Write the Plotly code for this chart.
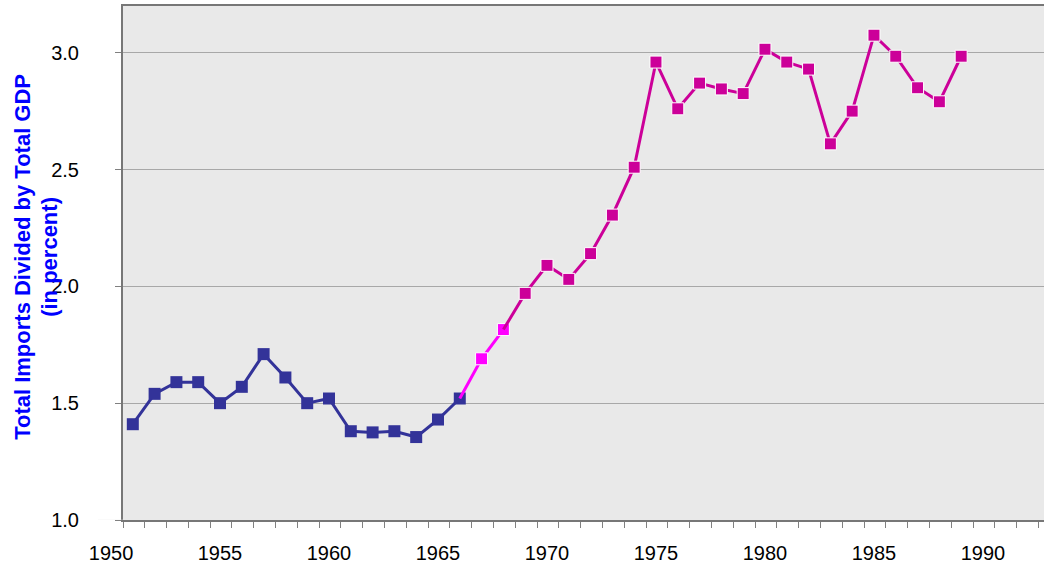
import plotly.graph_objects as go

# ---- data ----
blue_years = [1951, 1952, 1953, 1954, 1955, 1956, 1957, 1958, 1959, 1960,
              1961, 1962, 1963, 1964, 1965, 1966]
blue_vals = [1.41, 1.54, 1.59, 1.59, 1.50, 1.57, 1.71, 1.61, 1.50, 1.52,
             1.38, 1.375, 1.38, 1.355, 1.43, 1.52]

magenta_years = [1966, 1967, 1968]
magenta_vals = [1.52, 1.69, 1.815]

pink_years = [1968, 1969, 1970, 1971, 1972, 1973, 1974, 1975, 1976, 1977,
              1978, 1979, 1980, 1981, 1982, 1983, 1984, 1985, 1986, 1987,
              1988, 1989]
pink_vals = [1.815, 1.97, 2.09, 2.03, 2.14, 2.305, 2.51, 2.96, 2.76, 2.87,
             2.845, 2.825, 3.015, 2.96, 2.93, 2.61, 2.75, 3.075, 2.985, 2.85,
             2.79, 2.985]

x_tick_labels = [1950, 1955, 1960, 1965, 1970, 1975, 1980, 1985, 1990]
y_tick_vals = [1.0, 1.5, 2.0, 2.5, 3.0]

y_title_line1 = "Total Imports Divided by Total GDP"
y_title_line2 = "(in percent)"

# ---- layout constants ----
W, H = 1044, 563
ML, MR, MT, MB = 98, 0, 6, 43
PLOT_LEFT_OFFSET = 25          # px between paper left and the plot frame
X_RANGE = [1950.55, 1992.8]
Y_RANGE = [1.0, 3.2]

plot_w = W - ML - MR
x_dom0 = PLOT_LEFT_OFFSET / plot_w
px_per_unit = (plot_w - PLOT_LEFT_OFFSET) / (X_RANGE[1] - X_RANGE[0])
x2_range = [X_RANGE[0] - PLOT_LEFT_OFFSET / px_per_unit, X_RANGE[1]]

# ---- figure ----
MS = 12
fig = go.Figure()
fig.add_trace(go.Scatter(
    x=blue_years, y=blue_vals, mode="lines+markers",
    line=dict(color="#333399", width=3),
    marker=dict(symbol="square", size=MS, color="#333399", opacity=1),
    showlegend=False, cliponaxis=False))
fig.add_trace(go.Scatter(
    x=magenta_years, y=magenta_vals, mode="lines+markers",
    line=dict(color="#FF00FF", width=3),
    marker=dict(symbol="square", size=[0] + [MS] * (len(magenta_years) - 1),
                color="#FF00FF", opacity=1),
    showlegend=False, cliponaxis=False))
fig.add_trace(go.Scatter(
    x=pink_years, y=pink_vals, mode="lines+markers",
    line=dict(color="#CC0099", width=3),
    marker=dict(symbol="square", size=[0] + [MS] * (len(pink_years) - 1),
                color="#CC0099", opacity=1),
    showlegend=False, cliponaxis=False))
# empty trace so the (label-only) year axis is created
fig.add_trace(go.Scatter(x=[], y=[], xaxis="x2", yaxis="y2", showlegend=False,
                         hoverinfo="skip"))

font = "Liberation Sans, Arial, sans-serif"

annotations = [
    dict(x=0, xref="paper", y=0.512, yref="paper", text="<b>%s</b>" % y_title_line1,
         showarrow=False, textangle=-90, xshift=-75, xanchor="center", yanchor="middle",
         font=dict(family=font, size=22, color="#0000FF")),
    dict(x=0, xref="paper", y=0.512, yref="paper", text="<b>%s</b>" % y_title_line2,
         showarrow=False, textangle=-90, xshift=-48, xanchor="center", yanchor="middle",
         font=dict(family=font, size=22, color="#0000FF")),
]

fig.update_layout(
    width=W, height=H,
    margin=dict(l=ML, r=MR, t=MT, b=MB, pad=0),
    paper_bgcolor="#ffffff",
    plot_bgcolor="#e9e9e9",
    font=dict(family=font, size=20, color="#000000"),
    annotations=annotations,
    xaxis=dict(
        domain=[x_dom0, 1],
        range=X_RANGE,
        tickmode="linear", tick0=X_RANGE[0], dtick=1,
        ticks="outside", ticklen=6, tickcolor="#808080", tickwidth=1,
        showticklabels=False, showgrid=False, zeroline=False,
        showline=True, linecolor="#777777", linewidth=2, mirror=True,
    ),
    xaxis2=dict(
        domain=[0, 1], range=x2_range, anchor="y2", side="bottom",
        tickmode="array", tickvals=x_tick_labels, ticktext=[str(v) for v in x_tick_labels],
        ticks="", showline=False, showgrid=False, zeroline=False,
        ticklabelstandoff=19,
        tickfont=dict(family=font, size=20, color="#000000"),
    ),
    yaxis2=dict(
        domain=[0, 0.0005], anchor="x2", range=[0, 1],
        showticklabels=False, ticks="", showgrid=False, zeroline=False, showline=False,
    ),
    yaxis=dict(
        range=Y_RANGE,
        tickvals=y_tick_vals, ticktext=["%.1f" % v for v in y_tick_vals],
        ticks="outside", ticklen=6, tickcolor="#808080",
        ticklabelstandoff=32,
        showgrid=True, gridcolor="#a8a8a8", gridwidth=1, zeroline=False,
        showline=True, linecolor="#777777", linewidth=2,
        tickfont=dict(family=font, size=20, color="#000000"),
    ),
)

fig.write_html("out.html", post_script="document.body.style.margin='0';",
               config={"displayModeBar": False})
